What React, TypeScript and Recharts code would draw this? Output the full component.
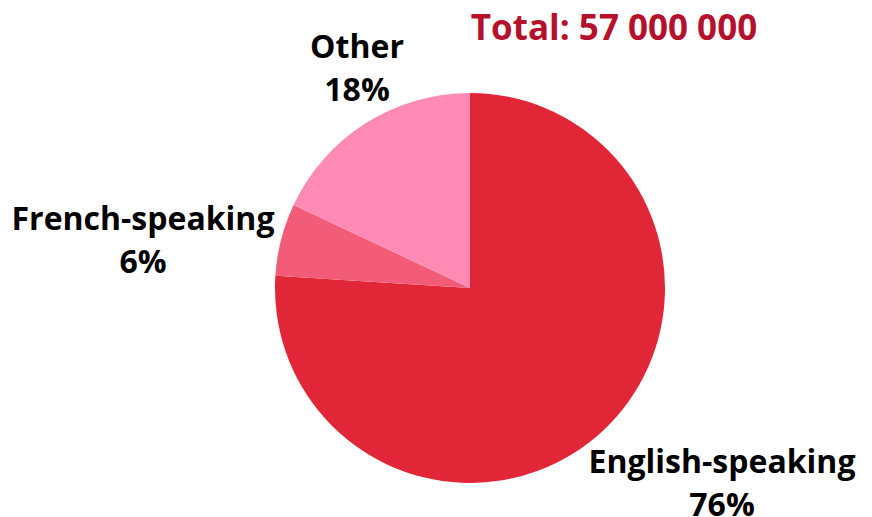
import { Pie, PieChart, Cell } from "recharts";

const languages = ["English-speaking", "French-speaking", "Other"];
const shares = [76, 6, 18];
const sliceColors = ["#E02637", "#F25C78", "#FF8AB3"];
const totalLabel = "Total: 57 000 000";

const data = languages.map((name, i) => ({ name, value: shares[i] }));

// label anchor (centre x, first-line baseline) per slice, in chart px
const LABEL_AT: Record<string, [number, number]> = {
  "English-speaking": [722, 473],
  "French-speaking": [143, 230],
  Other: [357, 58],
};

const FONT = "'Open Sans', sans-serif";

function SliceLabel(props: { name?: string; value?: number }) {
  const { name, value } = props;
  if (!name) return null;
  const [x, y] = LABEL_AT[name];
  return (
    <text
      textAnchor="middle"
      fontFamily={FONT}
      fontWeight={700}
      fontSize={32}
      fill="#000"
    >
      <tspan x={x} y={y}>
        {name}
      </tspan>
      <tspan x={x} y={y + 43}>
        {value}%
      </tspan>
    </text>
  );
}

export default function App() {
  return (
    <div style={{ position: "fixed", left: 0, top: 0, width: 872, height: 517, background: "#fff" }}>
      <PieChart width={872} height={517} margin={{ top: 0, right: 0, bottom: 0, left: 0 }}>
        <text
          x={614}
          y={40}
          textAnchor="middle"
          fontFamily={FONT}
          fontWeight={700}
          fontSize={35}
          fill="#B5102C"
        >
          {totalLabel}
        </text>
        <Pie
          data={data}
          dataKey="value"
          nameKey="name"
          cx={470}
          cy={288}
          outerRadius={195}
          startAngle={90}
          endAngle={-270}
          stroke="none"
          label={SliceLabel}
          labelLine={false}
          isAnimationActive={false}
        >
          {data.map((d, i) => (
            <Cell key={d.name} fill={sliceColors[i]} />
          ))}
        </Pie>
      </PieChart>
    </div>
  );
}
